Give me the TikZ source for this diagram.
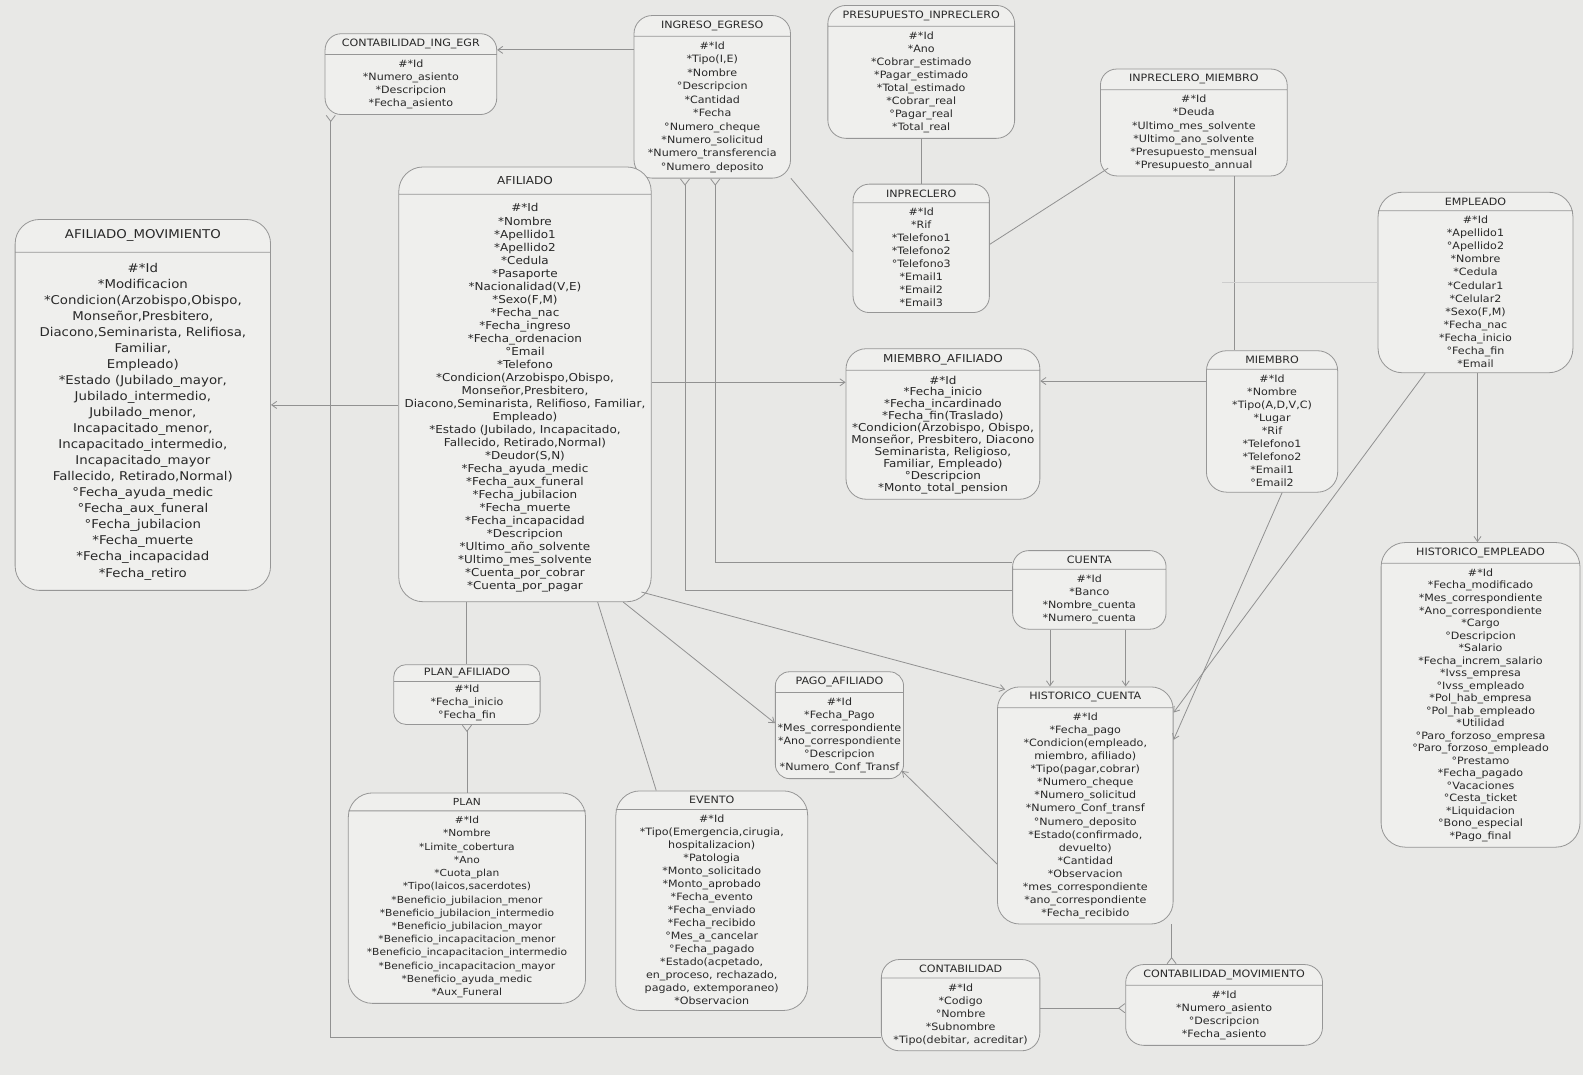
\documentclass[tikz,border=0pt]{standalone}
\usepackage{fontspec}
\newfontfamily\erfont[FakeStretch=1.1]{DejaVu Sans}
\usetikzlibrary{shapes.multipart,arrows.meta}
\definecolor{scanbg}{RGB}{232,232,230}
\definecolor{boxfill}{RGB}{239,239,237}
\definecolor{boxline}{RGB}{150,150,150}
\definecolor{relline}{RGB}{145,145,145}
\definecolor{ink}{RGB}{40,40,40}
\begin{document}
\begin{tikzpicture}[x=1pt,y=-1pt,
  ent/.style={draw=boxline,line width=0.8pt,fill=boxfill,rounded corners=16pt,
    rectangle split,rectangle split parts=2,align=center,text=ink,
    font=\erfont\fontsize{10}{12.9}\selectfont,inner xsep=2pt,inner ysep=5pt,anchor=north},
  rel/.style={draw=relline,line width=0.8pt},
  tomany/.style={-{Straight Barb[length=5pt,width=7pt]}},
  frommany/.style={{Straight Barb[length=5pt,width=7pt]}-},
  crowstart/.style={{Straight Barb[reversed,length=6pt,width=9pt]}-},
  crowend/.style={-{Straight Barb[reversed,length=6pt,width=9pt]}}]

\fill[scanbg] (0,0) rectangle (1568,1065);
\useasboundingbox (0,0) rectangle (1568,1065);

\node[ent,minimum width=253,minimum height=368,inner ysep=10pt,rounded corners=24pt,
  font=\erfont\fontsize{12}{15.9}\selectfont] (0) at (141.5,217) {AFILIADO\_MOVIMIENTO
  \nodepart{two}\#*Id\\{}*Modificacion\\{}*Condicion(Arzobispo,Obispo,\\Monseñor,Presbitero,\\Diacono,Seminarista, Relifiosa,\\Familiar,\\Empleado)\\{}*Estado (Jubilado\_mayor,\\Jubilado\_intermedio,\\Jubilado\_menor,\\Incapacitado\_menor,\\Incapacitado\_intermedio,\\Incapacitado\_mayor\\Fallecido, Retirado,Normal)\\°Fecha\_ayuda\_medic\\°Fecha\_aux\_funeral\\°Fecha\_jubilacion\\{}*Fecha\_muerte\\{}*Fecha\_incapacidad\\{}*Fecha\_retiro};

\node[ent,minimum width=170,minimum height=97] (1) at (407,33) {CONTABILIDAD\_ING\_EGR
  \nodepart{two}\#*Id\\{}*Numero\_asiento\\{}*Descripcion\\{}*Fecha\_asiento};

\node[ent,minimum width=155,minimum height=170,rounded corners=18pt,
  font=\erfont\fontsize{10}{13.3}\selectfont] (2) at (705.5,15) {INGRESO\_EGRESO
  \nodepart{two}\#*Id\\{}*Tipo(I,E)\\{}*Nombre\\°Descripcion\\{}*Cantidad\\{}*Fecha\\°Numero\_cheque\\{}*Numero\_solicitud\\{}*Numero\_transferencia\\°Numero\_deposito};

\node[ent,minimum width=185,minimum height=140,rounded corners=18pt] (3) at (912.5,5) {PRESUPUESTO\_INPRECLERO
  \nodepart{two}\#*Id\\{}*Ano\\{}*Cobrar\_estimado\\{}*Pagar\_estimado\\{}*Total\_estimado\\{}*Cobrar\_real\\°Pagar\_real\\{}*Total\_real};

\node[ent,minimum width=135,minimum height=140] (4) at (912.5,182) {INPRECLERO
  \nodepart{two}\#*Id\\{}*Rif\\{}*Telefono1\\{}*Telefono2\\°Telefono3\\{}*Email1\\{}*Email2\\{}*Email3};

\node[ent,minimum width=185,minimum height=112] (5) at (1182.5,68) {INPRECLERO\_MIEMBRO
  \nodepart{two}\#*Id\\{}*Deuda\\{}*Ultimo\_mes\_solvente\\{}*Ultimo\_ano\_solvente\\{}*Presupuesto\_mensual\\{}*Presupuesto\_annual};

\node[ent,minimum width=250,minimum height=440,inner ysep=9pt,rounded corners=24pt,
  font=\erfont\fontsize{10.8}{12.9}\selectfont] (6) at (520,165) {AFILIADO
  \nodepart{two}\#*Id\\{}*Nombre\\{}*Apellido1\\{}*Apellido2\\{}*Cedula\\{}*Pasaporte\\{}*Nacionalidad(V,E)\\{}*Sexo(F,M)\\{}*Fecha\_nac\\{}*Fecha\_ingreso\\{}*Fecha\_ordenacion\\°Email\\{}*Telefono\\{}*Condicion(Arzobispo,Obispo,\\Monseñor,Presbitero,\\Diacono,Seminarista, Relifioso, Familiar,\\Empleado)\\{}*Estado (Jubilado, Incapacitado,\\Fallecido, Retirado,Normal)\\{}*Deudor(S,N)\\{}*Fecha\_ayuda\_medic\\{}*Fecha\_aux\_funeral\\{}*Fecha\_jubilacion\\{}*Fecha\_muerte\\{}*Fecha\_incapacidad\\{}*Descripcion\\{}*Ultimo\_año\_solvente\\{}*Ultimo\_mes\_solvente\\{}*Cuenta\_por\_cobrar\\{}*Cuenta\_por\_pagar};

\node[ent,minimum width=192,minimum height=160,rounded corners=20pt,
  font=\erfont\fontsize{10.8}{11.8}\selectfont] (7) at (934,345) {MIEMBRO\_AFILIADO
  \nodepart{two}\#*Id\\{}*Fecha\_inicio\\{}*Fecha\_incardinado\\{}*Fecha\_fin(Traslado)\\{}*Condicion(Arzobispo, Obispo,\\Monseñor, Presbitero, Diacono\\Seminarista, Religioso,\\Familiar, Empleado)\\°Descripcion\\{}*Monto\_total\_pension};

\node[ent,minimum width=130,minimum height=150,rounded corners=20pt] (8) at (1260,347) {MIEMBRO
  \nodepart{two}\#*Id\\{}*Nombre\\{}*Tipo(A,D,V,C)\\{}*Lugar\\{}*Rif\\{}*Telefono1\\{}*Telefono2\\{}*Email1\\°Email2};

\node[ent,minimum width=193,minimum height=195,rounded corners=24pt] (9) at (1461.5,190) {EMPLEADO
  \nodepart{two}\#*Id\\{}*Apellido1\\°Apellido2\\{}*Nombre\\{}*Cedula\\{}*Cedular1\\{}*Celular2\\{}*Sexo(F,M)\\{}*Fecha\_nac\\{}*Fecha\_inicio\\°Fecha\_fin\\{}*Email};

\node[ent,minimum width=197,minimum height=325,rounded corners=24pt,
  font=\erfont\fontsize{10}{12.4}\selectfont] (10) at (1466.5,537) {HISTORICO\_EMPLEADO
  \nodepart{two}\#*Id\\{}*Fecha\_modificado\\{}*Mes\_correspondiente\\{}*Ano\_correspondiente\\{}*Cargo\\°Descripcion\\{}*Salario\\{}*Fecha\_increm\_salario\\{}*Ivss\_empresa\\°Ivss\_empleado\\{}*Pol\_hab\_empresa\\°Pol\_hab\_empleado\\{}*Utilidad\\°Paro\_forzoso\_empresa\\°Paro\_forzoso\_empleado\\°Prestamo\\{}*Fecha\_pagado\\°Vacaciones\\°Cesta\_ticket\\{}*Liquidacion\\°Bono\_especial\\{}*Pago\_final};

\node[ent,minimum width=152,minimum height=95] (11) at (1079,545) {CUENTA
  \nodepart{two}\#*Id\\{}*Banco\\{}*Nombre\_cuenta\\{}*Numero\_cuenta};

\node[ent,minimum width=174,minimum height=240,rounded corners=22pt] (12) at (1075,680) {HISTORICO\_CUENTA
  \nodepart{two}\#*Id\\{}*Fecha\_pago\\{}*Condicion(empleado,\\miembro, afiliado)\\{}*Tipo(pagar,cobrar)\\{}*Numero\_cheque\\{}*Numero\_solicitud\\{}*Numero\_Conf\_transf\\°Numero\_deposito\\{}*Estado(confirmado,\\devuelto)\\{}*Cantidad\\{}*Observacion\\{}*mes\_correspondiente\\{}*ano\_correspondiente\\{}*Fecha\_recibido};

\node[ent,minimum width=145,minimum height=64,inner ysep=3pt,rounded corners=12pt] (13) at (462.5,658) {PLAN\_AFILIADO
  \nodepart{two}\#*Id\\{}*Fecha\_inicio\\°Fecha\_fin};

\node[ent,minimum width=127,minimum height=110,rounded corners=14pt] (14) at (831.5,665) {PAGO\_AFILIADO
  \nodepart{two}\#*Id\\{}*Fecha\_Pago\\{}*Mes\_correspondiente\\{}*Ano\_correspondiente\\°Descripcion\\{}*Numero\_Conf\_Transf};

\node[ent,minimum width=235,minimum height=225,rounded corners=24pt,
  font=\erfont\fontsize{9.6}{13.1}\selectfont] (15) at (462.5,785) {PLAN
  \nodepart{two}\#*Id\\{}*Nombre\\{}*Limite\_cobertura\\{}*Ano\\{}*Cuota\_plan\\{}*Tipo(laicos,sacerdotes)\\{}*Beneficio\_jubilacion\_menor\\{}*Beneficio\_jubilacion\_intermedio\\{}*Beneficio\_jubilacion\_mayor\\{}*Beneficio\_incapacitacion\_menor\\{}*Beneficio\_incapacitacion\_intermedio\\{}*Beneficio\_incapacitacion\_mayor\\{}*Beneficio\_ayuda\_medic\\{}*Aux\_Funeral};

\node[ent,minimum width=190,minimum height=247,rounded corners=24pt] (16) at (705,783) {EVENTO
  \nodepart{two}\#*Id\\{}*Tipo(Emergencia,cirugia,\\hospitalizacion)\\{}*Patologia\\{}*Monto\_solicitado\\{}*Monto\_aprobado\\{}*Fecha\_evento\\{}*Fecha\_enviado\\{}*Fecha\_recibido\\°Mes\_a\_cancelar\\°Fecha\_pagado\\{}*Estado(acpetado,\\en\_proceso, rechazado,\\pagado, extemporaneo)\\{}*Observacion};

\node[ent,minimum width=157,minimum height=115,rounded corners=18pt] (17) at (951.5,950) {CONTABILIDAD
  \nodepart{two}\#*Id\\{}*Codigo\\°Nombre\\{}*Subnombre\\{}*Tipo(debitar, acreditar)};

\node[ent,minimum width=195,minimum height=100,rounded corners=18pt] (18) at (1212.5,955) {CONTABILIDAD\_MOVIMIENTO
  \nodepart{two}\#*Id\\{}*Numero\_asiento\\°Descripcion\\{}*Fecha\_asiento};

\coordinate (e) at (1210,280);

\draw[rel,frommany] ([yshift=24]1.east) -- ([yshift=24]1.east -| 2.west);
\draw[rel,crowstart] ([xshift=6]1.south west) |- ([yshift=-32]17.west);
\draw[rel,frommany] (0.east) -- (0.east -| 6.west);
\draw[rel,tomany] ([yshift=2]6.east) -- ([yshift=2]6.east -| 7.west);
\draw[rel,tomany] ([yshift=40]8.west) -- ([yshift=40]8.west -| 7.east);
\draw[rel] (2.-46) -- (4.183);
\draw[rel] (3.south) -- (4.north);
\draw[rel] ([yshift=4]4.east) -- ([xshift=8,yshift=8]5.south west);
\draw[rel] ([xshift=40]5.south) -- ([xshift=40]5.south |- 8.north);
\draw[rel,draw=relline!45] (e -| 9.west) -- (e);
\draw[rel,tomany] ([xshift=47]9.south west) -- ([yshift=92]12.east);
\draw[rel,tomany] ([xshift=10]8.south) -- ([yshift=65]12.east);
\draw[rel,tomany] ([xshift=2]9.south) -- ([xshift=2]9.south |- 10.north);
\draw[rel,tomany] ([xshift=-39]11.south) -- ([xshift=-39]11.south |- 12.north);
\draw[rel,tomany] ([xshift=36]11.south) -- ([xshift=36]11.south |- 12.north);
\draw[rel,tomany] ([xshift=-10,yshift=10]6.south east) -- ([xshift=8,yshift=-3]12.north west);
\draw[rel,tomany] ([xshift=-28]6.south east) -- ([yshift=2]14.west);
\draw[rel,tomany] ([yshift=-58]12.west) -- ([xshift=-2,yshift=8]14.south east);
\draw[rel] ([xshift=-58]6.south) -- ([xshift=-58]6.south |- 13.north);
\draw[rel,crowstart] (13.south) -- (15.north);
\draw[rel] ([xshift=72]6.south) -- ([xshift=-55]16.north);
\draw[rel,crowend] ([yshift=-3]17.east) -- ([yshift=-3]17.east -| 18.west);
\draw[rel,crowend] ([xshift=-52]18.north |- 12.south) -- ([xshift=-52]18.north);
\draw[rel,crowstart] ([xshift=-27]2.south) |- (11.west);
\draw[rel,crowstart] ([xshift=3]2.south) |- ([yshift=27]11.west);

\end{tikzpicture}
\end{document}
